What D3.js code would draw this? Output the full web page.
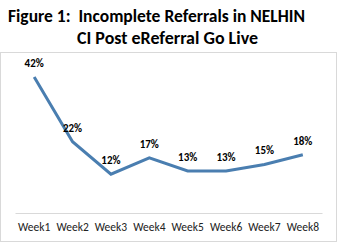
<!DOCTYPE html>
<html>
<head>
<meta charset="utf-8">
<script src="https://cdn.jsdelivr.net/npm/d3@7"></script>
<style>
  body { margin: 0; background: #fff; }
  text { font-family: Carlito, Calibri, Lato, "Open Sans", sans-serif; }
</style>
</head>
<body>
<svg id="chart" width="348" height="244"></svg>
<script>
const weeks = ['Week1', 'Week2', 'Week3', 'Week4', 'Week5', 'Week6', 'Week7', 'Week8'];
const incomplete = [42, 22, 12, 17, 13, 13, 15, 18];
const titleLines = ['Figure 1:  Incomplete Referrals in NELHIN', 'CI Post eReferral Go Live'];

const svg = d3.select("#chart");

// title (two lines, Excel-style bold)
svg.append("text")
    .attr("x", 8).attr("y", 22)
    .attr("font-size", 17).attr("font-weight", "bold")
    .attr("textLength", 297).attr("lengthAdjust", "spacingAndGlyphs")
    .style("white-space", "pre")
    .attr("fill", "#000")
    .text(titleLines[0]);
svg.append("text")
    .attr("x", 77).attr("y", 44)
    .attr("font-size", 17).attr("font-weight", "bold")
    .attr("textLength", 181).attr("lengthAdjust", "spacingAndGlyphs")
    .attr("fill", "#000")
    .text(titleLines[1]);

// chart frame
svg.append("rect")
    .attr("x", 0.5).attr("y", 52.5)
    .attr("width", 336).attr("height", 189)
    .attr("fill", "none")
    .attr("stroke", "#d9d9d9");

const x = d3.scaleBand()
    .domain(weeks)
    .range([15, 322]);

const y = d3.scaleLinear()
    .domain([0, 42])
    .range([213, 77]);

// x axis
const xAxis = svg.append("g")
    .attr("transform", "translate(0,213)")
    .call(d3.axisBottom(x).tickSize(0).tickPadding(10));
xAxis.select(".domain").attr("stroke", "#d9d9d9");
xAxis.selectAll("text")
    .attr("font-size", 11.5)
    .attr("fill", "#222")
    .style("font-family", "Carlito, Calibri, Lato, 'Open Sans', sans-serif");

const line = d3.line()
    .x((d, i) => x(weeks[i]) + x.bandwidth() / 2)
    .y(d => y(d));

svg.append("path")
    .datum(incomplete)
    .attr("fill", "none")
    .attr("stroke", "#4a7eb0")
    .attr("stroke-width", 3)
    .attr("d", line);

// data labels
svg.selectAll(".lbl")
    .data(incomplete)
    .enter().append("text")
    .attr("class", "lbl")
    .attr("x", (d, i) => x(weeks[i]) + x.bandwidth() / 2)
    .attr("y", d => y(d) - 10)
    .attr("text-anchor", "middle")
    .attr("font-size", 11).attr("font-weight", "bold")
    .attr("fill", "#000")
    .text(d => d + "%");
</script>
</body>
</html>
